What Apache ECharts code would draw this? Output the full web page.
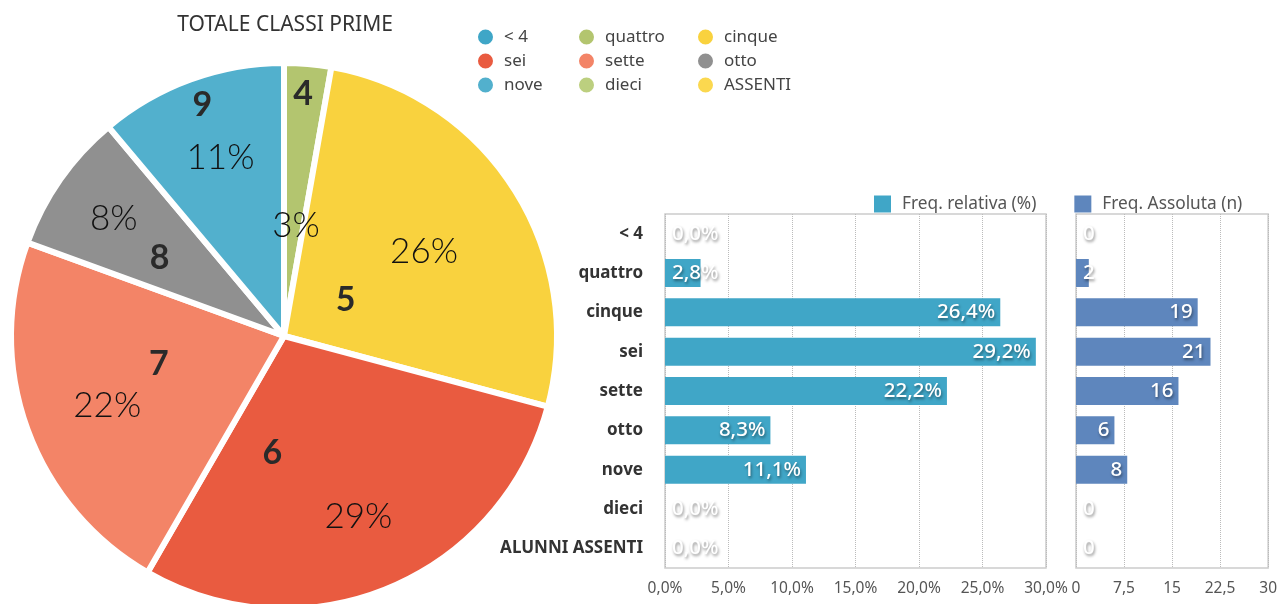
<!DOCTYPE html>
<html>
<head>
<meta charset="utf-8">
<script src="https://cdn.jsdelivr.net/npm/echarts@6/dist/echarts.min.js"></script>
<style>
  html, body { margin: 0; padding: 0; background: #fff; }
  #main { width: 1280px; height: 604px; }
</style>
</head>
<body>
<div id="main"></div>
<script>
// dati
var pieNames = ['< 4', 'quattro', 'cinque', 'sei', 'sette', 'otto', 'nove', 'dieci', 'ASSENTI'];
var pieGrades = ['', '4', '5', '6', '7', '8', '9', '', ''];
var pieValues = [0, 2, 19, 21, 16, 6, 8, 0, 0];

var barCategories = ['< 4', 'quattro', 'cinque', 'sei', 'sette', 'otto', 'nove', 'dieci', 'ALUNNI ASSENTI'];
var freqRelativa = [0, 2.8, 26.4, 29.2, 22.2, 8.3, 11.1, 0, 0];
var freqAssoluta = [0, 2, 19, 21, 16, 6, 8, 0, 0];

// stile
var pieColors = ['#3fa6c7', '#b3c56f', '#f9d23e', '#e95b40', '#f38467', '#909090', '#52b0cd', '#bccf7f', '#fbd84f'];
var pctOffsets = [[0, 0], [-5, 83], [-24, 20], [0, 1], [6, 3], [-11, -6], [3, 4], [0, 0], [0, 0]];
var gradeOffsets = [[0, 0], [7, -103], [-56, 39], [-65, -12], [6, -20], [-10, 2], [-34, -100], [0, 0], [0, 0]];
var FONT = 'Noto Sans';
var PIE_FONT = 'Lato';

var myChart = echarts.init(document.getElementById('main'));

var total = 0;
for (var i = 0; i < pieValues.length; i++) total += pieValues[i];

function pieData(transparent) {
  var out = [];
  for (var i = 0; i < pieNames.length; i++) {
    out.push({
      name: pieNames[i],
      value: pieValues[i],
      itemStyle: { color: transparent ? 'rgba(0,0,0,0)' : pieColors[i] }
    });
  }
  return out;
}

var pctData = pieData(true);
var gradeData = pieData(true);
for (var i = 0; i < pieNames.length; i++) {
  pctData[i].label = {
    show: pieValues[i] > 0,
    offset: pctOffsets[i]
  };
  gradeData[i].label = {
    show: pieValues[i] > 0,
    offset: gradeOffsets[i],
    formatter: pieGrades[i]
  };
}

// etichette dentro la barra, a sinistra se la barra e' troppo corta
function barData(values, max, small) {
  var out = [];
  for (var i = 0; i < values.length; i++) {
    var pos = values[i] / max < small ? 'insideLeft' : 'insideRight';
    out.push({
      value: values[i],
      label: { position: pos, distance: pos == 'insideLeft' ? 7 : 5 }
    });
  }
  return out;
}

function commaFmt(v, dec) {
  return (dec ? v.toFixed(dec) : String(v)).replace('.', ',');
}

var barLabel = {
  show: true,
  color: '#fff',
  fontFamily: FONT,
  fontSize: 20.5,
  fontWeight: 500,
  textShadowColor: 'rgba(0,0,0,0.45)',
  textShadowBlur: 3,
  textShadowOffsetX: 1,
  textShadowOffsetY: 2
};

var legendCols = [
  ['< 4', 'sei', 'nove'],
  ['quattro', 'sette', 'dieci'],
  ['cinque', 'otto', 'ASSENTI']
];
var legendLeft = [476, 577, 696];
var legends = [];
for (var c = 0; c < legendCols.length; c++) {
  legends.push({
    orient: 'vertical',
    left: legendLeft[c],
    top: 27,
    padding: 0,
    itemWidth: 17,
    itemHeight: 17,
    itemGap: 4,
    icon: 'circle',
    selectedMode: false,
    data: legendCols[c],
    textStyle: { color: '#444', fontSize: 17, lineHeight: 20, fontFamily: FONT, padding: [0, 0, 0, 5] }
  });
}
legends.push({
  orient: 'horizontal',
  left: 874,
  top: 194,
  padding: 0,
  itemWidth: 17,
  itemHeight: 17,
  itemGap: 38,
  icon: 'rect',
  selectedMode: false,
  data: ['Freq. relativa (%)', 'Freq. Assoluta (n)'],
  textStyle: { color: '#555', fontSize: 17.3, lineHeight: 20, fontFamily: FONT, padding: [0, 0, 0, 6] }
});

myChart.setOption({
  animation: false,
  title: {
    text: 'TOTALE CLASSI PRIME',
    left: 280,
    textAlign: 'center',
    top: 10,
    textStyle: { color: '#333', fontSize: 21, fontWeight: 'normal', fontFamily: FONT }
  },
  legend: legends,
  grid: [
    { left: 665, right: 234, top: 214, bottom: 36, show: true, borderColor: '#ccc', borderWidth: 1.5 },
    { left: 1076, right: 10, top: 214, bottom: 36, show: true, borderColor: '#ccc', borderWidth: 1.5 }
  ],
  xAxis: [
    {
      gridIndex: 0, type: 'value', min: 0, max: 30, interval: 5,
      axisLine: { show: false }, axisTick: { show: false },
      splitLine: { lineStyle: { type: 'dotted', color: '#bbb' } },
      axisLabel: {
        color: '#555', fontSize: 15.5, fontFamily: FONT, margin: 13,
        formatter: function (v) { return commaFmt(v, 1) + '%'; }
      }
    },
    {
      gridIndex: 1, type: 'value', min: 0, max: 30, interval: 7.5,
      axisLine: { show: false }, axisTick: { show: false },
      splitLine: { lineStyle: { type: 'dotted', color: '#bbb' } },
      axisLabel: {
        color: '#555', fontSize: 15.5, fontFamily: FONT, margin: 13,
        formatter: function (v) { return commaFmt(v); }
      }
    }
  ],
  yAxis: [
    {
      gridIndex: 0, type: 'category', inverse: true, data: barCategories,
      axisLine: { show: false }, axisTick: { show: false },
      axisLabel: { color: '#333', fontSize: 17, fontWeight: 'bold', fontFamily: FONT, margin: 22 }
    },
    {
      gridIndex: 1, type: 'category', inverse: true, data: barCategories,
      axisLine: { show: false }, axisTick: { show: false }, axisLabel: { show: false }
    }
  ],
  series: [
    {
      type: 'pie',
      name: 'classi',
      center: [284, 336],
      radius: [0, 273],
      startAngle: 90,
      silent: true,
      data: pieData(false),
      label: { show: false },
      labelLine: { show: false },
      itemStyle: { borderColor: '#fff', borderWidth: 6 }
    },
    {
      type: 'pie',
      center: [284, 336],
      radius: [110, 273],
      startAngle: 90,
      silent: true,
      data: pctData,
      label: {
        position: 'inside',
        color: '#111',
        fontSize: 35,
        fontFamily: PIE_FONT,
        fontWeight: 300,
        formatter: function (p) { return Math.round(p.value / total * 100) + '%'; }
      },
      labelLine: { show: false }
    },
    {
      type: 'pie',
      center: [284, 336],
      radius: [0, 273],
      startAngle: 90,
      silent: true,
      data: gradeData,
      label: {
        position: 'inside',
        color: '#2a2a2a',
        fontSize: 34,
        fontFamily: PIE_FONT,
        fontWeight: 'bold'
      },
      labelLine: { show: false }
    },
    {
      type: 'bar',
      name: 'Freq. relativa (%)',
      xAxisIndex: 0,
      yAxisIndex: 0,
      barWidth: 28,
      itemStyle: { color: '#40a6c7' },
      data: barData(freqRelativa, 30, 0.18),
      label: Object.assign({}, barLabel, {
        formatter: function (p) { return commaFmt(p.value, 1) + '%'; }
      })
    },
    {
      type: 'bar',
      name: 'Freq. Assoluta (n)',
      xAxisIndex: 1,
      yAxisIndex: 1,
      barWidth: 28,
      itemStyle: { color: '#5e86bd' },
      data: barData(freqAssoluta, 30, 0.1),
      label: Object.assign({}, barLabel, {
        formatter: function (p) { return String(p.value); }
      })
    }
  ]
});
</script>
</body>
</html>
